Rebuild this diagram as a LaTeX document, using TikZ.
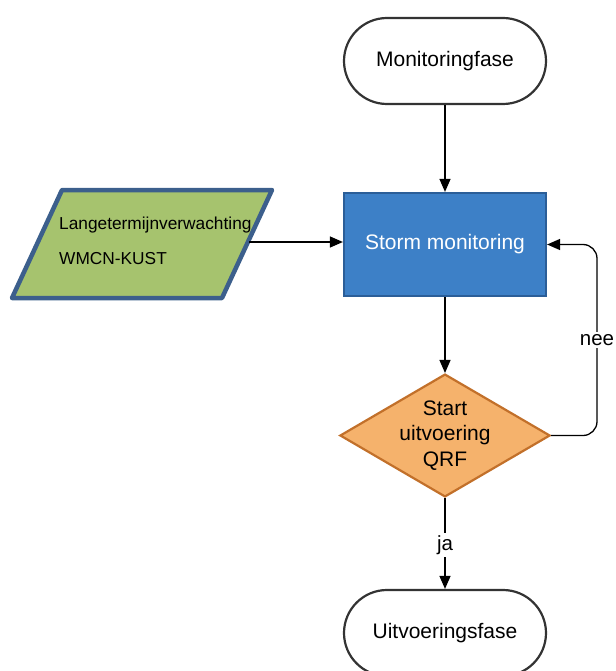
\documentclass[tikz,border=0pt]{standalone}
\usepackage{fontspec}
\setmainfont{Liberation Sans}
\usetikzlibrary{shapes.geometric,arrows.meta}
\definecolor{boxblue}{HTML}{3D80C7}
\definecolor{boxblueline}{HTML}{2B5E98}
\definecolor{paragreen}{HTML}{A6C36E}
\definecolor{paraline}{HTML}{3C5F8C}
\definecolor{diaorange}{HTML}{F5B26C}
\definecolor{dialine}{HTML}{C2702A}
\tikzset{
  term/.style={draw=black!80, line width=2.2pt, fill=white, rounded corners=43pt,
    minimum width=202pt, minimum height=86pt, font=\fontsize{21}{24}\selectfont},
  procbox/.style={draw=boxblueline, line width=2.2pt, fill=boxblue, text=white,
    minimum width=202pt, minimum height=103pt, font=\fontsize{21}{24}\selectfont},
  decision/.style={diamond, draw=dialine, line width=2.2pt, fill=diaorange,
    minimum width=204pt, minimum height=119pt, aspect=1.71, inner sep=0pt,
    align=center, font=\fontsize{21}{25.5}\selectfont},
  conn/.style={line width=1.3pt, -{Triangle[width=11pt,length=13pt]}},
  lbl/.style={fill=white, inner sep=2pt, font=\fontsize{20.5}{24}\selectfont},
}
\begin{document}
\begin{tikzpicture}[x=1pt,y=-1pt]
\useasboundingbox (0,0) rectangle (615,671);
\node[term] (mon) at (445,61) {Monitoringfase};
\node[procbox] (storm) at (445,244.5) {Storm monitoring};
\node[decision] (dec) at (445,435.5) {Start\\uitvoering\\QRF};
\node[term] (uit) at (445,633) {Uitvoeringsfase};
% parallelogram
\coordinate (p1) at (62,190);
\coordinate (p2) at (272,190);
\coordinate (p3) at (222,298);
\coordinate (p4) at (12,298);
\draw[draw=paraline, line width=4.5pt, fill=paragreen, line join=round] (p1) -- (p2) -- (p3) -- (p4) -- cycle;
\node[anchor=base west, inner sep=0pt, font=\fontsize{17.3}{20}\selectfont] (t1) at (59,229) {Langetermijnverwachting};
\node[anchor=base west, inner sep=0pt, font=\fontsize{17.3}{20}\selectfont] (t2) at (59,264) {WMCN-KUST};
\coordinate (pr) at (249,242);
\draw[conn] (pr) -- (storm.west |- pr);
\draw[conn] (mon.south) -- (storm.north);
\draw[conn] (storm.south) -- (dec.north);
\coordinate (c1) at (597,435.5);
\coordinate (c2) at (597,244.5);
\draw[conn, rounded corners=14pt] (dec.east) -- (c1) -- (c2) -- (storm.east);
\node[lbl] (nee) at (597,340) {nee};
\draw[conn] (dec.south) -- (uit.north);
\node[lbl] (ja) at (445,545) {ja};
\end{tikzpicture}
\end{document}
